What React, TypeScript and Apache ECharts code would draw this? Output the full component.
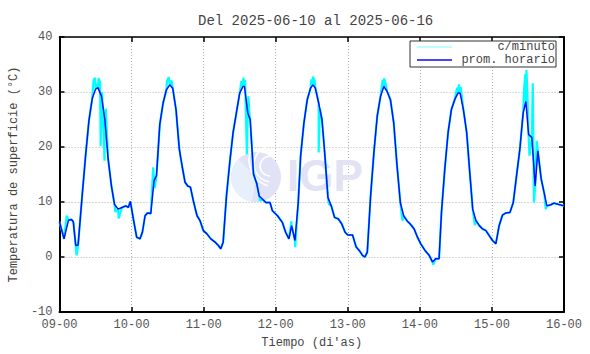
import React, { useEffect, useRef } from "react";
import * as echarts from "echarts";

const chartTitle = "Del 2025-06-10 al 2025-06-16";
const xTickLabels = ["09-00", "10-00", "11-00", "12-00", "13-00", "14-00", "15-00", "16-00"];
const legendNames = ["c/minuto", "prom. horario"];
const yAxisTitle = "Temperatura de superficie (°C)";
const xAxisTitle = "Tiempo (di'as)";

// [hours since 2025-06-09 00:00, temperature °C] — hourly average
const hourly: [number, number][] = [
  [0, 6.4], [1.5, 3.3], [3, 6.7], [4, 6.8], [4.6, 6.4], [5.4, 2.1], [6.2, 2.2], [7.6, 11.5], [8.7, 18.5], [9.8, 24.8], [10.9, 28.8], [12, 30.5], [12.8, 30.8], [14, 29.2], [15.1, 25], [16.2, 17.8], [17.3, 12.9], [18.3, 9.6], [19.5, 8.7], [20.8, 9.0], [22.1, 9.3], [22.9, 9.0], [23.6, 10.1],
  [24.6, 6.9], [25.7, 3.6], [26.8, 3.3], [27.6, 4.5], [28.5, 7.5], [29.3, 8.0], [30.4, 7.9], [31.5, 13.9], [32.3, 14.8], [33.4, 24.1], [34.5, 28.0], [35.6, 30.4], [36.7, 31.3], [37.7, 30.7], [38.8, 26.8], [39.9, 19.6], [41, 16.0], [41.8, 13.6], [42.7, 12.9], [43.6, 12.7], [44.7, 9.9], [45.8, 7.5], [46.8, 6.6], [47.9, 4.8],
  [49.1, 4.2], [50.4, 3.3], [51.8, 2.7], [52.9, 2.1], [53.7, 1.5], [54.5, 2.7], [55.6, 11.1], [56.7, 17.2], [57.8, 22.6], [58.9, 26.2], [60, 29.8], [61.1, 31.0], [61.6, 31.0], [62.7, 26.2], [63.5, 25.0], [64.6, 15.1], [65.7, 13.3], [66.5, 11.1], [67.6, 10.5], [68.7, 9.9], [70.1, 9.9], [70.9, 8.4], [72.6, 7.5],
  [74.2, 6.3], [75.3, 4.5], [76.4, 3.3], [77.3, 5.7], [78.4, 3.0], [79.5, 9.9], [80.3, 18.4], [81.4, 24.4], [82.5, 28.6], [83.6, 30.7], [84.4, 31.3], [85.2, 30.7], [86.3, 28.0], [87.4, 25.0], [88.3, 19.0], [89.4, 10.8], [90.5, 9.3], [91.6, 7.2], [92.9, 6.9], [94, 6.0], [95.1, 4.5], [96, 4.0],
  [97.6, 4.0], [98.8, 1.8], [99.8, 1.2], [100.9, 0.3], [101.7, 0.0], [102.5, 0.9], [103.6, 11.1], [104.7, 19.0], [105.8, 25.6], [106.9, 29.2], [108, 31.0], [109.1, 30.1], [110.2, 28.6], [111.3, 24.4], [112.4, 16.6], [113.5, 9.9], [114.6, 7.5], [115.7, 6.6], [116.8, 6.0], [118.1, 5.1], [119.2, 3.6], [120.3, 2.4],
  [121.7, 1.2], [123.1, 0.3], [124.2, -0.9], [125.3, -0.3], [126.4, -0.3], [127.2, 8.1], [128.3, 16.0], [129.4, 22.6], [130.5, 26.8], [131.6, 28.6], [132.7, 29.8], [133.4, 29.8], [134.5, 26.8], [135.6, 22.6], [136.7, 14.8], [137.6, 8.7], [138.7, 6.6], [139.8, 5.7], [140.9, 5.1], [142, 4.8], [143.1, 3.9], [144.2, 3.0],
  [145.3, 2.4], [146.4, 5.7], [147.5, 7.6], [148.6, 8.0], [150, 8.1], [151.1, 9.9], [152.2, 14.8], [153.3, 19.6], [154.4, 26.2], [155.3, 28.3], [156.2, 22.3], [157.3, 21.7], [158.4, 12.9], [159.3, 19.3], [160.4, 14.2], [161.5, 11.4], [162.3, 9.3], [163.6, 9.5], [164.7, 9.8], [166, 9.6], [168, 9.3],
];

// per-minute readings that stand out from the hourly line
const minuteExtra: [number, number][] = [
  [2.4, 7.5], [5.7, 0.3], [11.3, 32.0], [11.8, 32.6], [12.3, 31.5], [13.0, 32.5], [13.5, 31.8], [13.7, 20.2], [14.2, 30.0], [15.0, 17.5], [15.4, 27.0], [18.6, 8.2], [19.7, 7.0],
  [31.2, 16.3], [31.7, 12.5], [35.8, 32.0], [36.4, 32.7], [37.0, 32.0], [37.4, 31.9], [40.3, 18.2],
  [60.6, 32.0], [61.2, 32.6], [61.8, 32.2], [62.4, 18.7], [62.9, 29.2], [63.3, 25.6], [66.8, 10.2],
  [77.2, 6.5], [78.5, 1.8], [83.8, 32.3], [84.4, 32.8], [85.0, 32.0], [86.3, 19.0], [86.7, 27.0], [89.7, 9.6],
  [107.6, 32.2], [108.1, 32.5], [108.6, 31.5], [114.2, 6.6], [124.5, -1.4],
  [132.4, 30.8], [133.0, 31.4], [133.6, 30.9], [138.3, 5.8],
  [154.7, 30.5], [155.1, 33.2], [155.5, 34.0], [155.8, 30.0], [156.5, 18.4], [157.6, 31.6], [158.0, 9.9], [158.9, 21.1], [161.9, 8.7],
];

export default function App() {
  const ref = useRef<HTMLDivElement>(null);
  useEffect(() => {
    const chart = echarts.init(ref.current!, null, { renderer: "svg" });
    const minute = [...hourly, ...minuteExtra].sort((a, b) => a[0] - b[0]);
    const mono = "'Liberation Mono', 'DejaVu Sans Mono', monospace";
    const labelColor = "#555";
    const split = { show: true, lineStyle: { color: "#b0b0b0", type: [1, 2] as any, width: 1 } };
    chart.setOption({
      animation: false,
      backgroundColor: "#ffffff",
      title: {
        text: chartTitle,
        left: 193,
        top: 9,
        textStyle: { fontFamily: mono, fontSize: 14, fontWeight: "normal", color: "#444" },
      },
      grid: { left: 54, right: 26, top: 37, bottom: 40 },
      xAxis: [
        {
          type: "value", min: 0, max: 168, interval: 24, position: "bottom",
          axisLine: { onZero: false, lineStyle: { color: "#000", width: 2 } },
          axisTick: { inside: true, length: 5, lineStyle: { color: "#000", width: 1.5 } },
          axisLabel: { formatter: (v: number) => xTickLabels[Math.round(v / 24)], color: labelColor, fontFamily: mono, fontSize: 12, margin: 7 },
          splitLine: split,
          name: xAxisTitle, nameLocation: "middle", nameGap: 25,
          nameTextStyle: { fontFamily: mono, fontSize: 12, color: "#444" },
        },
        {
          type: "value", min: 0, max: 168, interval: 24, position: "top",
          axisLine: { onZero: false, lineStyle: { color: "#000", width: 1.5 } },
          axisTick: { inside: true, length: 5, lineStyle: { color: "#000", width: 1.5 } },
          axisLabel: { show: false }, splitLine: { show: false },
        },
      ],
      yAxis: [
        {
          type: "value", min: -10, max: 40, interval: 10, position: "left",
          axisLine: { show: true, onZero: false, lineStyle: { color: "#000", width: 2 } },
          axisTick: { show: true, inside: true, length: 5, lineStyle: { color: "#000", width: 1.5 } },
          axisLabel: { color: labelColor, fontFamily: mono, fontSize: 12, margin: 7 },
          splitLine: split,
          name: yAxisTitle, nameLocation: "middle", nameGap: 36,
          nameTextStyle: { fontFamily: mono, fontSize: 12, color: "#444" },
        },
        {
          type: "value", min: -10, max: 40, interval: 10, position: "right",
          axisLine: { show: true, onZero: false, lineStyle: { color: "#000", width: 2 } },
          axisTick: { show: true, inside: true, length: 5, lineStyle: { color: "#000", width: 1.5 } },
          axisLabel: { show: false }, splitLine: { show: false },
        },
      ],
      series: [
        {
          name: legendNames[0], type: "line", data: minute, symbol: "none",
          xAxisIndex: 0, yAxisIndex: 0, z: 3,
          lineStyle: { color: "#00ffff", width: 2.2 },
        },
        {
          name: legendNames[1], type: "line", data: hourly, symbol: "none",
          xAxisIndex: 0, yAxisIndex: 0, z: 4,
          lineStyle: { color: "#0a0aff", width: 1.5 },
        },
      ],
      graphic: [
        // watermark
        { type: "circle", z: 1, shape: { cx: 256, cy: 177, r: 25 }, style: { fill: "#e2e2f6" } },
        { type: "sector", z: 1, shape: { cx: 256, cy: 177, r: 25, r0: 0, startAngle: Math.PI * 0.55, endAngle: Math.PI * 1.25 }, style: { fill: "#e8effc" } },
        { type: "arc", z: 1, shape: { cx: 270, cy: 166, r: 10, startAngle: Math.PI * 0.5, endAngle: Math.PI * 1.5 }, style: { stroke: "#fff", lineWidth: 1.5, fill: "none" } },
        { type: "arc", z: 1, shape: { cx: 272, cy: 164, r: 18, startAngle: Math.PI * 0.55, endAngle: Math.PI * 1.4 }, style: { stroke: "#fff", lineWidth: 1.5, fill: "none" } },
        { type: "arc", z: 1, shape: { cx: 276, cy: 160, r: 27, startAngle: Math.PI * 0.6, endAngle: Math.PI * 1.3 }, style: { stroke: "#fff", lineWidth: 1.5, fill: "none" } },
        { type: "text", z: 1, x: 287, y: 175, style: { text: "IGP", font: "bold 44px 'Liberation Sans', Arial, sans-serif", fill: "#e2e2f4", textVerticalAlign: "middle" } },
        // legend
        { type: "rect", z: 100, shape: { x: 410, y: 41, width: 146, height: 26 }, style: { fill: "#fff", stroke: "#333", lineWidth: 1 } },
        { type: "line", z: 101, shape: { x1: 417, y1: 47, x2: 452, y2: 47 }, style: { stroke: "#7ffcfc", lineWidth: 1 } },
        { type: "line", z: 101, shape: { x1: 417, y1: 60, x2: 452, y2: 60 }, style: { stroke: "#0a0aff", lineWidth: 1.5 } },
        { type: "text", z: 101, x: 555, y: 47, style: { text: legendNames[0], font: `12px ${mono}`, fill: "#444", textAlign: "right", textVerticalAlign: "middle" } },
        { type: "text", z: 101, x: 555, y: 60, style: { text: legendNames[1], font: `12px ${mono}`, fill: "#444", textAlign: "right", textVerticalAlign: "middle" } },
      ],
    });
    return () => chart.dispose();
  }, []);
  return <div ref={ref} style={{ position: "absolute", left: 0, top: 0, width: 590, height: 354 }} />;
}
